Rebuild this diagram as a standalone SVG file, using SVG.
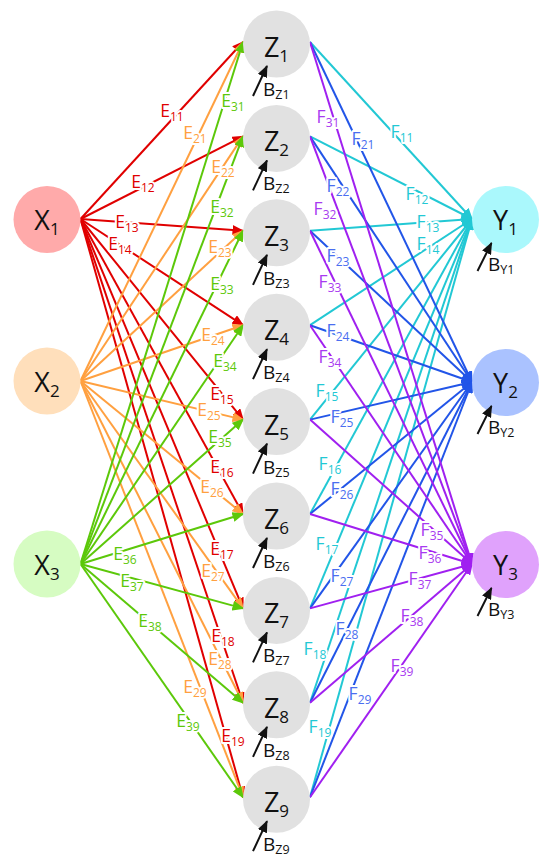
<svg xmlns="http://www.w3.org/2000/svg" width="541" height="861" viewBox="0 0 541 861">
<style>
text{font-family:"Open Sans","Noto Sans","Liberation Sans",sans-serif}
.edge line{stroke-width:2;fill:none}
.c1{stroke:#e00000;marker-end:url(#aR)}
.c2{stroke:#ffa040;marker-end:url(#aO)}
.c3{stroke:#5cc80a;marker-end:url(#aG)}
.d1{stroke:#22c8d4;marker-end:url(#aC)}
.d2{stroke:#2255e8;marker-end:url(#aB)}
.d3{stroke:#a020f0;marker-end:url(#aP)}
.lbl text{font-size:17.5px;text-anchor:middle;stroke:#fff;stroke-width:4;stroke-linejoin:round;paint-order:stroke}
.lbl tspan{font-size:12px}
.t1{fill:#e00000}.t2{fill:#ffa040}.t3{fill:#5cc80a}
.u1{fill:#22c8d4}.u2{fill:#4a6ef0}.u3{fill:#a83af0}
.nl{font-size:27px;text-anchor:middle;fill:#111}
.ns{font-size:17px}
.bl{font-size:19px;fill:#111}
.bs{font-size:12.5px}
.bias{stroke:#111;stroke-width:2;marker-end:url(#aK)}
</style>
<defs>
<marker id="aR" viewBox="0 0 12 10" refX="10.5" refY="5" markerWidth="12" markerHeight="10" markerUnits="userSpaceOnUse" orient="auto"><path d="M0,0L12,5L0,10z" fill="#e00000"/></marker>
<marker id="aO" viewBox="0 0 12 10" refX="10.5" refY="5" markerWidth="12" markerHeight="10" markerUnits="userSpaceOnUse" orient="auto"><path d="M0,0L12,5L0,10z" fill="#ffa040"/></marker>
<marker id="aG" viewBox="0 0 12 10" refX="10.5" refY="5" markerWidth="12" markerHeight="10" markerUnits="userSpaceOnUse" orient="auto"><path d="M0,0L12,5L0,10z" fill="#5cc80a"/></marker>
<marker id="aC" viewBox="0 0 12 10" refX="10.5" refY="5" markerWidth="12" markerHeight="10" markerUnits="userSpaceOnUse" orient="auto"><path d="M0,0L12,5L0,10z" fill="#22c8d4"/></marker>
<marker id="aB" viewBox="0 0 12 10" refX="10.5" refY="5" markerWidth="12" markerHeight="10" markerUnits="userSpaceOnUse" orient="auto"><path d="M0,0L12,5L0,10z" fill="#2255e8"/></marker>
<marker id="aP" viewBox="0 0 12 10" refX="10.5" refY="5" markerWidth="12" markerHeight="10" markerUnits="userSpaceOnUse" orient="auto"><path d="M0,0L12,5L0,10z" fill="#a020f0"/></marker>
<marker id="aK" viewBox="0 0 12 10" refX="11" refY="5" markerWidth="12" markerHeight="10" markerUnits="userSpaceOnUse" orient="auto"><path d="M0,0L12,5L0,10z" fill="#111"/></marker>
</defs>
<rect width="541" height="861" fill="#fff"/>
<g id="connectors" class="edge">
<line class="c1" x1="80.5" y1="219" x2="243" y2="42"/>
<line class="c1" x1="80.5" y1="219" x2="243" y2="136.4"/>
<line class="c1" x1="80.5" y1="219" x2="243" y2="230.8"/>
<line class="c1" x1="80.5" y1="219" x2="243" y2="325.2"/>
<line class="c1" x1="80.5" y1="219" x2="243" y2="419.6"/>
<line class="c1" x1="80.5" y1="219" x2="243" y2="514"/>
<line class="c1" x1="80.5" y1="219" x2="243" y2="608.4"/>
<line class="c1" x1="80.5" y1="219" x2="243" y2="702.8"/>
<line class="c1" x1="80.5" y1="219" x2="243" y2="797.2"/>
<line class="c2" x1="80.5" y1="381" x2="243" y2="42"/>
<line class="c2" x1="80.5" y1="381" x2="243" y2="136.4"/>
<line class="c2" x1="80.5" y1="381" x2="243" y2="230.8"/>
<line class="c2" x1="80.5" y1="381" x2="243" y2="325.2"/>
<line class="c2" x1="80.5" y1="381" x2="243" y2="419.6"/>
<line class="c2" x1="80.5" y1="381" x2="243" y2="514"/>
<line class="c2" x1="80.5" y1="381" x2="243" y2="608.4"/>
<line class="c2" x1="80.5" y1="381" x2="243" y2="702.8"/>
<line class="c2" x1="80.5" y1="381" x2="243" y2="797.2"/>
<line class="c3" x1="80.5" y1="564" x2="243" y2="42"/>
<line class="c3" x1="80.5" y1="564" x2="243" y2="136.4"/>
<line class="c3" x1="80.5" y1="564" x2="243" y2="230.8"/>
<line class="c3" x1="80.5" y1="564" x2="243" y2="325.2"/>
<line class="c3" x1="80.5" y1="564" x2="243" y2="419.6"/>
<line class="c3" x1="80.5" y1="564" x2="243" y2="514"/>
<line class="c3" x1="80.5" y1="564" x2="243" y2="608.4"/>
<line class="c3" x1="80.5" y1="564" x2="243" y2="702.8"/>
<line class="c3" x1="80.5" y1="564" x2="243" y2="797.2"/>
<line class="d1" x1="310" y1="42" x2="472" y2="219"/>
<line class="d1" x1="310" y1="136.4" x2="472" y2="219"/>
<line class="d1" x1="310" y1="230.8" x2="472" y2="219"/>
<line class="d1" x1="310" y1="325.2" x2="472" y2="219"/>
<line class="d1" x1="310" y1="419.6" x2="472" y2="219"/>
<line class="d1" x1="310" y1="514" x2="472" y2="219"/>
<line class="d1" x1="310" y1="608.4" x2="472" y2="219"/>
<line class="d1" x1="310" y1="702.8" x2="472" y2="219"/>
<line class="d1" x1="310" y1="797.2" x2="472" y2="219"/>
<line class="d2" x1="310" y1="42" x2="472" y2="382"/>
<line class="d2" x1="310" y1="136.4" x2="472" y2="382"/>
<line class="d2" x1="310" y1="230.8" x2="472" y2="382"/>
<line class="d2" x1="310" y1="325.2" x2="472" y2="382"/>
<line class="d2" x1="310" y1="419.6" x2="472" y2="382"/>
<line class="d2" x1="310" y1="514" x2="472" y2="382"/>
<line class="d2" x1="310" y1="608.4" x2="472" y2="382"/>
<line class="d2" x1="310" y1="702.8" x2="472" y2="382"/>
<line class="d2" x1="310" y1="797.2" x2="472" y2="382"/>
<line class="d3" x1="310" y1="42" x2="472" y2="564"/>
<line class="d3" x1="310" y1="136.4" x2="472" y2="564"/>
<line class="d3" x1="310" y1="230.8" x2="472" y2="564"/>
<line class="d3" x1="310" y1="325.2" x2="472" y2="564"/>
<line class="d3" x1="310" y1="419.6" x2="472" y2="564"/>
<line class="d3" x1="310" y1="514" x2="472" y2="564"/>
<line class="d3" x1="310" y1="608.4" x2="472" y2="564"/>
<line class="d3" x1="310" y1="702.8" x2="472" y2="564"/>
<line class="d3" x1="310" y1="797.2" x2="472" y2="564"/>
</g>
<g id="edge-labels" class="lbl">
<text class="t1" x="172" y="117">E<tspan dy="4">11</tspan></text>
<text class="t1" x="143" y="188">E<tspan dy="4">12</tspan></text>
<text class="t1" x="127" y="228">E<tspan dy="4">13</tspan></text>
<text class="t1" x="120" y="250">E<tspan dy="4">14</tspan></text>
<text class="t1" x="222" y="400">E<tspan dy="4">15</tspan></text>
<text class="t1" x="222" y="473">E<tspan dy="4">16</tspan></text>
<text class="t1" x="222" y="555">E<tspan dy="4">17</tspan></text>
<text class="t1" x="223" y="642">E<tspan dy="4">18</tspan></text>
<text class="t1" x="233" y="742">E<tspan dy="4">19</tspan></text>
<text class="t2" x="195" y="139">E<tspan dy="4">21</tspan></text>
<text class="t2" x="223" y="173">E<tspan dy="4">22</tspan></text>
<text class="t2" x="220" y="253">E<tspan dy="4">23</tspan></text>
<text class="t2" x="213" y="341">E<tspan dy="4">24</tspan></text>
<text class="t2" x="209" y="416">E<tspan dy="4">25</tspan></text>
<text class="t2" x="212" y="493">E<tspan dy="4">26</tspan></text>
<text class="t2" x="213" y="577">E<tspan dy="4">27</tspan></text>
<text class="t2" x="220" y="665">E<tspan dy="4">28</tspan></text>
<text class="t2" x="195" y="693">E<tspan dy="4">29</tspan></text>
<text class="t3" x="233" y="107">E<tspan dy="4">31</tspan></text>
<text class="t3" x="222" y="213">E<tspan dy="4">32</tspan></text>
<text class="t3" x="222" y="290">E<tspan dy="4">33</tspan></text>
<text class="t3" x="225" y="367">E<tspan dy="4">34</tspan></text>
<text class="t3" x="220" y="443">E<tspan dy="4">35</tspan></text>
<text class="t3" x="125" y="560">E<tspan dy="4">36</tspan></text>
<text class="t3" x="132" y="587">E<tspan dy="4">37</tspan></text>
<text class="t3" x="150" y="627">E<tspan dy="4">38</tspan></text>
<text class="t3" x="188" y="727">E<tspan dy="4">39</tspan></text>
<text class="u1" x="402" y="138">F<tspan dy="4">11</tspan></text>
<text class="u1" x="417" y="200">F<tspan dy="4">12</tspan></text>
<text class="u1" x="428" y="228">F<tspan dy="4">13</tspan></text>
<text class="u1" x="428" y="250">F<tspan dy="4">14</tspan></text>
<text class="u1" x="327" y="397">F<tspan dy="4">15</tspan></text>
<text class="u1" x="330" y="470">F<tspan dy="4">16</tspan></text>
<text class="u1" x="327" y="550">F<tspan dy="4">17</tspan></text>
<text class="u1" x="315" y="655">F<tspan dy="4">18</tspan></text>
<text class="u1" x="320" y="733">F<tspan dy="4">19</tspan></text>
<text class="u2" x="363" y="145">F<tspan dy="4">21</tspan></text>
<text class="u2" x="338" y="192">F<tspan dy="4">22</tspan></text>
<text class="u2" x="338" y="262">F<tspan dy="4">23</tspan></text>
<text class="u2" x="338" y="337">F<tspan dy="4">24</tspan></text>
<text class="u2" x="342" y="423">F<tspan dy="4">25</tspan></text>
<text class="u2" x="342" y="495">F<tspan dy="4">26</tspan></text>
<text class="u2" x="342" y="582">F<tspan dy="4">27</tspan></text>
<text class="u2" x="347" y="635">F<tspan dy="4">28</tspan></text>
<text class="u2" x="360" y="700">F<tspan dy="4">29</tspan></text>
<text class="u3" x="328" y="123">F<tspan dy="4">31</tspan></text>
<text class="u3" x="325" y="215">F<tspan dy="4">32</tspan></text>
<text class="u3" x="330" y="288">F<tspan dy="4">33</tspan></text>
<text class="u3" x="330" y="363">F<tspan dy="4">34</tspan></text>
<text class="u3" x="432" y="536">F<tspan dy="4">35</tspan></text>
<text class="u3" x="430" y="559">F<tspan dy="4">36</tspan></text>
<text class="u3" x="420" y="585">F<tspan dy="4">37</tspan></text>
<text class="u3" x="412" y="622">F<tspan dy="4">38</tspan></text>
<text class="u3" x="402" y="672">F<tspan dy="4">39</tspan></text>
</g>
<g id="X1"><circle cx="47" cy="219.5" r="33.5" fill="#ffaaaa"/><text class="nl" x="47" y="230">X<tspan class="ns" dy="5">1</tspan></text></g>
<g id="X2"><circle cx="47" cy="381" r="33.5" fill="#ffdfbb"/><text class="nl" x="47" y="391.5">X<tspan class="ns" dy="5">2</tspan></text></g>
<g id="X3"><circle cx="47" cy="564" r="33.5" fill="#d6fcc2"/><text class="nl" x="47" y="574.5">X<tspan class="ns" dy="5">3</tspan></text></g>
<g id="Z1"><circle cx="276.5" cy="44" r="33.5" fill="#e1e1e1"/><text class="nl" x="276.5" y="57">Z<tspan class="ns" dy="5">1</tspan></text><line class="bias" x1="253" y1="96" x2="267" y2="66"/><text class="bl" x="263" y="96">B<tspan class="bs" dy="3">Z1</tspan></text></g>
<g id="Z2"><circle cx="276.5" cy="138.4" r="33.5" fill="#e1e1e1"/><text class="nl" x="276.5" y="151.4">Z<tspan class="ns" dy="5">2</tspan></text><line class="bias" x1="253" y1="190.4" x2="267" y2="160.4"/><text class="bl" x="263" y="190.4">B<tspan class="bs" dy="3">Z2</tspan></text></g>
<g id="Z3"><circle cx="276.5" cy="232.8" r="33.5" fill="#e1e1e1"/><text class="nl" x="276.5" y="245.8">Z<tspan class="ns" dy="5">3</tspan></text><line class="bias" x1="253" y1="284.8" x2="267" y2="254.8"/><text class="bl" x="263" y="284.8">B<tspan class="bs" dy="3">Z3</tspan></text></g>
<g id="Z4"><circle cx="276.5" cy="327.2" r="33.5" fill="#e1e1e1"/><text class="nl" x="276.5" y="340.2">Z<tspan class="ns" dy="5">4</tspan></text><line class="bias" x1="253" y1="379.2" x2="267" y2="349.2"/><text class="bl" x="263" y="379.2">B<tspan class="bs" dy="3">Z4</tspan></text></g>
<g id="Z5"><circle cx="276.5" cy="421.6" r="33.5" fill="#e1e1e1"/><text class="nl" x="276.5" y="434.6">Z<tspan class="ns" dy="5">5</tspan></text><line class="bias" x1="253" y1="473.6" x2="267" y2="443.6"/><text class="bl" x="263" y="473.6">B<tspan class="bs" dy="3">Z5</tspan></text></g>
<g id="Z6"><circle cx="276.5" cy="516" r="33.5" fill="#e1e1e1"/><text class="nl" x="276.5" y="529">Z<tspan class="ns" dy="5">6</tspan></text><line class="bias" x1="253" y1="568" x2="267" y2="538"/><text class="bl" x="263" y="568">B<tspan class="bs" dy="3">Z6</tspan></text></g>
<g id="Z7"><circle cx="276.5" cy="610.4" r="33.5" fill="#e1e1e1"/><text class="nl" x="276.5" y="623.4">Z<tspan class="ns" dy="5">7</tspan></text><line class="bias" x1="253" y1="662.4" x2="267" y2="632.4"/><text class="bl" x="263" y="662.4">B<tspan class="bs" dy="3">Z7</tspan></text></g>
<g id="Z8"><circle cx="276.5" cy="704.8" r="33.5" fill="#e1e1e1"/><text class="nl" x="276.5" y="717.8">Z<tspan class="ns" dy="5">8</tspan></text><line class="bias" x1="253" y1="756.8" x2="267" y2="726.8"/><text class="bl" x="263" y="756.8">B<tspan class="bs" dy="3">Z8</tspan></text></g>
<g id="Z9"><circle cx="276.5" cy="799.2" r="33.5" fill="#e1e1e1"/><text class="nl" x="276.5" y="812.2">Z<tspan class="ns" dy="5">9</tspan></text><line class="bias" x1="253" y1="851.2" x2="267" y2="821.2"/><text class="bl" x="263" y="851.2">B<tspan class="bs" dy="3">Z9</tspan></text></g>
<g id="Y1"><circle cx="505.5" cy="219.5" r="33.5" fill="#aaf8fc"/><text class="nl" x="505.5" y="230">Y<tspan class="ns" dy="5">1</tspan></text><line class="bias" x1="477.5" y1="271" x2="491.5" y2="243"/><text class="bl" x="488" y="271">B<tspan class="bs" dy="3">Y1</tspan></text></g>
<g id="Y2"><circle cx="505.5" cy="382.5" r="33.5" fill="#aac2ff"/><text class="nl" x="505.5" y="393">Y<tspan class="ns" dy="5">2</tspan></text><line class="bias" x1="477.5" y1="434" x2="491.5" y2="406"/><text class="bl" x="488" y="434">B<tspan class="bs" dy="3">Y2</tspan></text></g>
<g id="Y3"><circle cx="505.5" cy="564.5" r="33.5" fill="#e0a2fc"/><text class="nl" x="505.5" y="575">Y<tspan class="ns" dy="5">3</tspan></text><line class="bias" x1="477.5" y1="616" x2="491.5" y2="588"/><text class="bl" x="488" y="616">B<tspan class="bs" dy="3">Y3</tspan></text></g>
</svg>
